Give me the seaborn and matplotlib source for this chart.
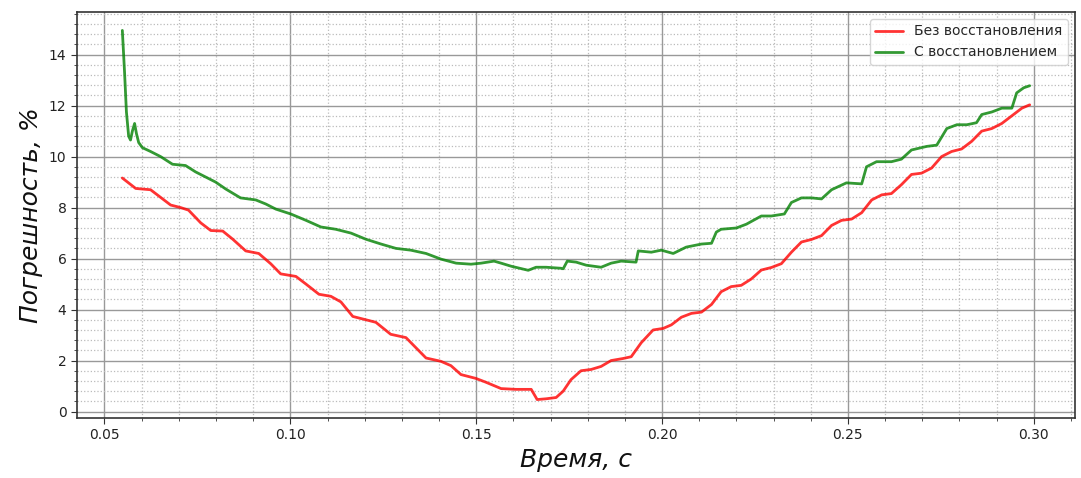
import matplotlib
matplotlib.use("Agg")
import matplotlib.pyplot as plt
from matplotlib.ticker import AutoMinorLocator, MultipleLocator
import seaborn as sns

# Error without recovery
t_raw = [0.0548, 0.0584, 0.0624, 0.0678, 0.0705, 0.0726, 0.0759, 0.0786, 0.0818, 0.0845,
         0.0880, 0.0915, 0.0947, 0.0974, 0.1015, 0.1042, 0.1077, 0.1109, 0.1136, 0.1168,
         0.1203, 0.1230, 0.1270, 0.1311, 0.1338, 0.1365, 0.1405, 0.1432, 0.1459, 0.1499,
         0.1526, 0.1567, 0.1607, 0.1648, 0.1664, 0.1688, 0.1715, 0.1734, 0.1755, 0.1782,
         0.1809, 0.1836, 0.1863, 0.1895, 0.1917, 0.1944, 0.1976, 0.2003, 0.2025, 0.2052,
         0.2079, 0.2106, 0.2133, 0.2159, 0.2186, 0.2213, 0.2240, 0.2267, 0.2294, 0.2321,
         0.2348, 0.2375, 0.2402, 0.2429, 0.2456, 0.2483, 0.2510, 0.2537, 0.2564, 0.2591,
         0.2617, 0.2644, 0.2671, 0.2698, 0.2725, 0.2752, 0.2779, 0.2806, 0.2833, 0.2860,
         0.2887, 0.2914, 0.2941, 0.2968, 0.2989]
err_raw = [9.16, 8.75, 8.70, 8.10, 8.00, 7.90, 7.40, 7.10, 7.08, 6.76,
           6.30, 6.20, 5.80, 5.40, 5.30, 5.00, 4.60, 4.52, 4.30, 3.73,
           3.60, 3.50, 3.03, 2.90, 2.50, 2.10, 1.97, 1.80, 1.45, 1.30,
           1.15, 0.90, 0.87, 0.87, 0.47, 0.50, 0.55, 0.80, 1.25, 1.60,
           1.65, 1.77, 2.00, 2.08, 2.15, 2.70, 3.20, 3.26, 3.40, 3.70,
           3.85, 3.90, 4.20, 4.70, 4.90, 4.95, 5.20, 5.55, 5.65, 5.80,
           6.25, 6.65, 6.75, 6.90, 7.30, 7.50, 7.55, 7.80, 8.30, 8.50,
           8.55, 8.90, 9.30, 9.35, 9.55, 10.00, 10.20, 10.30, 10.60, 11.00,
           11.10, 11.30, 11.60, 11.90, 12.03]

# Error with recovery
t_rec = [0.0548, 0.0554, 0.0559, 0.0565, 0.0570, 0.0575, 0.0581, 0.0586, 0.0592, 0.0602,
         0.0624, 0.0651, 0.0683, 0.0718, 0.0745, 0.0772, 0.0799, 0.0826, 0.0866, 0.0907,
         0.0934, 0.0961, 0.1001, 0.1042, 0.1082, 0.1122, 0.1163, 0.1203, 0.1244, 0.1284,
         0.1324, 0.1365, 0.1405, 0.1446, 0.1486, 0.1513, 0.1548, 0.1567, 0.1594, 0.1640,
         0.1661, 0.1688, 0.1728, 0.1734, 0.1745, 0.1769, 0.1796, 0.1836, 0.1863, 0.1890,
         0.1930, 0.1936, 0.1971, 0.1998, 0.2030, 0.2065, 0.2106, 0.2133, 0.2146, 0.2159,
         0.2200, 0.2227, 0.2267, 0.2294, 0.2329, 0.2348, 0.2375, 0.2402, 0.2429, 0.2456,
         0.2496, 0.2537, 0.2550, 0.2577, 0.2617, 0.2644, 0.2671, 0.2712, 0.2739, 0.2766,
         0.2793, 0.2820, 0.2846, 0.2860, 0.2887, 0.2914, 0.2941, 0.2954, 0.2973, 0.2989]
err_rec = [14.95, 13.30, 11.75, 10.80, 10.65, 11.00, 11.30, 10.90, 10.55, 10.35,
           10.20, 10.00, 9.70, 9.65, 9.40, 9.20, 9.00, 8.73, 8.38, 8.30,
           8.14, 7.94, 7.75, 7.50, 7.24, 7.15, 7.00, 6.76, 6.57, 6.40,
           6.33, 6.20, 5.98, 5.82, 5.78, 5.82, 5.90, 5.82, 5.70, 5.54,
           5.66, 5.66, 5.62, 5.60, 5.90, 5.86, 5.74, 5.66, 5.82, 5.90,
           5.86, 6.30, 6.25, 6.33, 6.20, 6.45, 6.57, 6.60, 7.04, 7.15,
           7.20, 7.35, 7.67, 7.67, 7.75, 8.20, 8.38, 8.38, 8.34, 8.70,
           8.97, 8.93, 9.60, 9.80, 9.80, 9.90, 10.26, 10.40, 10.45, 11.10,
           11.25, 11.25, 11.33, 11.65, 11.75, 11.90, 11.90, 12.50, 12.70, 12.78]

labels = ["Без восстановления", "С восстановлением"]

sns.set_style("ticks")
plt.rcParams["font.family"] = ["DejaVu Sans"]

fig = plt.figure(figsize=(10.81, 4.78), dpi=100)
ax = fig.add_axes([0.0712, 0.1255, 0.9233, 0.8495])

sns.lineplot(x=t_raw, y=err_raw, ax=ax, color="red", alpha=0.8, linewidth=2, label=labels[0])
sns.lineplot(x=t_rec, y=err_rec, ax=ax, color="green", alpha=0.8, linewidth=2, label=labels[1])

ax.xaxis.set_major_locator(MultipleLocator(0.05))
ax.yaxis.set_major_locator(MultipleLocator(2))
ax.xaxis.set_minor_locator(AutoMinorLocator(5))
ax.yaxis.set_minor_locator(AutoMinorLocator(5))
ax.grid(which="major", color="#999999", linestyle="-", linewidth=1)
ax.grid(which="minor", color="#bbbbbb", linestyle=":", linewidth=0.9)
ax.set_axisbelow(True)

ax.tick_params(which="major", labelsize=10, length=4, color="#333333", labelcolor="#222222")
ax.tick_params(which="minor", length=2, color="#333333")
for s in ax.spines.values():
    s.set_color("#333333")
    s.set_linewidth(1.2)

ax.set_xlabel("Время, с", fontsize=18, fontstyle="italic", color="#111111")
ax.set_ylabel("Погрешность, %", fontsize=18, fontstyle="italic", color="#111111")
ax.set_xticklabels([f"{v:.2f}" for v in ax.get_xticks()])

ax.legend(loc="upper right", fontsize=10, frameon=True)

fig.savefig("out.png", dpi=100)
